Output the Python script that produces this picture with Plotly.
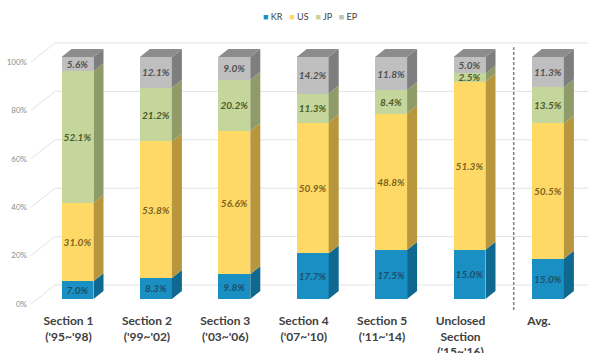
import plotly.graph_objects as go

categories = ["Section 1<br>('95~'98)", "Section 2<br>('99~'02)", "Section 3<br>('03~'06)",
              "Section 4<br>('07~'10)", "Section 5<br>('11~'14)",
              "Unclosed<br>Section<br>('15~'16)", "Avg."]
series_names = ["KR", "US", "JP", "EP"]
kr = [7.0, 8.3, 9.8, 17.7, 17.5, 15.0, 15.0]
us = [31.0, 53.8, 56.6, 50.9, 48.8, 51.3, 50.5]
jp = [52.1, 21.2, 20.2, 11.3, 8.4, 2.5, 13.5]
ep = [5.6, 12.1, 9.0, 14.2, 11.8, 5.0, 11.3]
y_ticks = [0, 20, 40, 60, 80, 100]
y_tick_labels = ["0%", "20%", "40%", "60%", "80%", "100%"]

front_colors = ["#1A8FC3", "#FFD966", "#C4D69B", "#BFBFBF"]
side_colors = ["#0E6890", "#B8963E", "#8F9C6A", "#7E7E7E"]
top_color = "#8C8C8C"
label_colors = ["#1F4E66", "#7A6520", "#4A5A28", "#505050"]

series = [kr, us, jp, ep]
n = len(categories)
xs = list(range(n))
W = 0.408      # bar width (category units)
DX = 0.1276    # 3D depth in x
DY = 3.31      # 3D depth in y (%)
BACK = 5.785   # back wall offset (%)

fig = go.Figure()
totals = [sum(s[i] for s in series) for i in range(n)]
for k, (name, vals) in enumerate(zip(series_names, series)):
    fig.add_trace(go.Bar(
        x=xs, y=vals, name=name, width=W, marker=dict(color=front_colors[k], line=dict(width=0)),
        text=[f"{v:.1f}%" for v in vals], texttemplate="%{text}", textposition="inside",
        insidetextanchor="middle", textangle=0,
        textfont=dict(family="Lato", size=10, color=label_colors[k], weight="bold", style="italic"),
        showlegend=False, hoverinfo="skip", cliponaxis=False))

# side faces (3D)
for k in range(4):
    px_, py_ = [], []
    for i in range(n):
        b = sum(series[j][i] for j in range(k)) / totals[i] * 100
        t = b + series[k][i] / totals[i] * 100
        xr = i + W / 2
        px_ += [xr, xr + DX, xr + DX, xr, xr, None]
        py_ += [b, b + DY, t + DY, t, b, None]
    fig.add_trace(go.Scatter(x=px_, y=py_, mode="lines", fill="toself", fillcolor=side_colors[k],
                             line=dict(width=0, color=side_colors[k]), showlegend=False, hoverinfo="skip"))
# top faces
tx, ty = [], []
for i in range(n):
    xl, xr = i - W / 2, i + W / 2
    tx += [xl, xl + DX, xr + DX, xr, xl, None]
    ty += [100, 100 + DY, 100 + DY, 100, 100, None]
fig.add_trace(go.Scatter(x=tx, y=ty, mode="lines", fill="toself", fillcolor=top_color,
                         line=dict(width=0, color=top_color), showlegend=False, hoverinfo="skip"))

# geometry
L, R, T, B = 28, 0, 35, 41
plot_w = 595 - L - R
x0 = -(77.5 - L) / 78.4
x1 = (595 - R - 77.5) / 78.4
ymax = (299 - T) / 2.42
ymin = (299 - (353 - B)) / 2.42
wall_l = (55 - L) / plot_w
wall_r = (588 - L) / plot_w

shapes = []
for t in y_ticks:
    shapes.append(dict(type="line", xref="paper", yref="y", x0=wall_l, x1=wall_r, y0=t + BACK, y1=t + BACK,
                       line=dict(color="#E3E3E3", width=1), layer="below"))
    shapes.append(dict(type="line", xref="paper", yref="y", x0=(31 - L) / plot_w, x1=wall_l,
                       y0=t - 2.07, y1=t + BACK, line=dict(color="#E3E3E3", width=1), layer="below"))
shapes.append(dict(type="line", xref="x", yref="y", x0=5.5 + DX / 2, x1=5.5 + DX / 2, y0=-4.5, y1=104,
                   line=dict(color="#808080", width=1.5, dash="3px,2px")))

legend_text = "   ".join(f"<span style='color:{c}'>■</span> {nm}" for c, nm in zip(front_colors, series_names))

fig.update_layout(
    width=595, height=353, barmode="stack", barnorm="percent",
    margin=dict(l=L, r=R, t=T, b=B, autoexpand=False), plot_bgcolor="white", paper_bgcolor="white",
    font=dict(family="Lato", color="#404040"),
    uniformtext=dict(minsize=10, mode="show"),
    shapes=shapes,
    annotations=[dict(text=legend_text, xref="paper", yref="paper", x=(310 - L) / plot_w, y=1 + (35 - 17) / (353 - T - B),
                      xanchor="center", yanchor="middle", showarrow=False,
                      font=dict(family="Lato", size=9, color="#404040"))],
    xaxis=dict(range=[x0, x1], tickvals=xs, ticktext=categories, showgrid=False, zeroline=False,
               showline=False, ticks="", ticklabelshift=-9, ticklabelstandoff=0, automargin=False,
               tickfont=dict(family="Lato", size=12, color="#404040", weight="bold")),
    yaxis=dict(range=[ymin, ymax], tickvals=y_ticks, ticktext=y_tick_labels, showgrid=False,
               zeroline=False, showline=False, ticks="", ticklabelshift=5, automargin=False,
               tickfont=dict(family="Lato", size=8, color="#8C8C8C")),
)

fig.write_html("out.html")
